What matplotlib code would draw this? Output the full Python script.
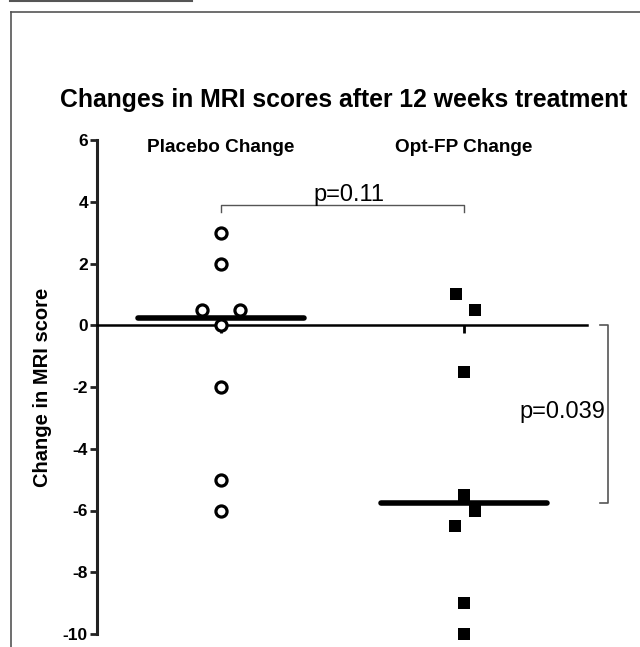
import matplotlib
matplotlib.use("Agg")
import matplotlib.pyplot as plt
from matplotlib.lines import Line2D
import numpy as np

plt.rcParams['font.family'] = ['Liberation Sans', 'DejaVu Sans']

# ---- data ----
categories = ["Placebo Change", "Opt-FP Change"]
placebo_values = [3, 2, 0.5, 0.5, 0, -2, -5, -6]
placebo_jitter = [0, 0, -0.08, 0.08, 0, 0, 0, 0]
optfp_values = [1, 0.5, -1.5, -5.5, -6, -6.5, -9, -10]
optfp_jitter = [-0.033, 0.045, 0, 0, 0.045, -0.037, 0, 0]
yticks = [6, 4, 2, 0, -2, -4, -6, -8, -10]
title = "Changes in MRI scores after 12 weeks treatment"
ylabel = "Change in MRI score"
p_between = "p=0.11"
p_optfp = "p=0.039"

W, H = 640, 647
fig = plt.figure(figsize=(W / 100, H / 100), dpi=100)

# axes placement (pixels)
ax_left, ax_right = 97, 587
ax_top, ax_bottom = 140, 634
ax = fig.add_axes([ax_left / W, 1 - ax_bottom / H,
                   (ax_right - ax_left) / W, (ax_bottom - ax_top) / H])
ax.set_xlim(0.49, 2.506)
ax.set_ylim(-10, 6)

xpos = [1, 2]
med_half = 0.34

# points
ax.plot(np.array(xpos[0]) + np.array(placebo_jitter), placebo_values, 'o',
        ms=8, mfc='white', mec='black', mew=2.3, zorder=4, clip_on=False)
ax.plot(np.array(xpos[1]) + np.array(optfp_jitter), optfp_values, 's',
        ms=9, mfc='black', mec='black', mew=0, zorder=4, clip_on=False)

# medians
for x, vals in zip(xpos, [placebo_values, optfp_values]):
    m = np.median(vals)
    ax.plot([x - med_half, x + med_half], [m, m], color='black', lw=4.0,
            solid_capstyle='round', zorder=3)

# spines / ticks
for s in ['top', 'right']:
    ax.spines[s].set_visible(False)
ax.spines['bottom'].set_position(('data', 0))
ax.spines['bottom'].set_linewidth(1.8)
ax.spines['left'].set_linewidth(2.2)
ax.spines['left'].set_color('#222222')
ax.set_yticks(yticks)
ax.set_yticklabels([str(t) for t in yticks], fontweight='bold', fontsize=12.5)
ax.tick_params(axis='y', direction='out', length=5, width=2, pad=1.5, color='#222222')
ax.set_xticks(xpos)
ax.set_xticklabels([])
ax.tick_params(axis='x', direction='out', length=6, width=2)

# category labels at top
for x, c in zip(xpos, categories):
    ax.text(x, 5.76, c, ha='center', va='center', fontweight='bold', fontsize=13.7)

# p-value bracket between groups
yb = 3.88
ax.plot([xpos[0], xpos[0], xpos[1], xpos[1]], [yb - 0.2, yb, yb, yb - 0.2],
        color='#555555', lw=1.0)
ax.text(1.527, 4.02, p_between, ha='center', va='baseline', fontsize=17)

# bracket for Opt-FP vs zero
m2 = np.median(optfp_values)
ax.plot([2.560, 2.593, 2.593, 2.560], [0, 0, m2, m2], color='#555555', lw=1.2,
        clip_on=False)
ax.text(2.582, -2.82, p_optfp, ha='right', va='center', fontsize=17)

# y label and title
fig.text(43 / W, 1 - 387 / H, ylabel, rotation=90, ha='center', va='center',
         fontweight='bold', fontsize=14.5)
fig.text(344 / W, 1 - 100 / H, title, ha='center', va='center',
         fontweight='bold', fontsize=17.8)

# outer frame lines
fc = '#555555'
fig.add_artist(Line2D([11 / W, 11 / W], [1 - 12 / H, 0], transform=fig.transFigure,
                      color=fc, lw=1.2))
fig.add_artist(Line2D([11 / W, 1], [1 - 12 / H, 1 - 12 / H], transform=fig.transFigure,
                      color=fc, lw=1.2))
fig.add_artist(Line2D([10 / W, 192 / W], [1 - 0.8 / H, 1 - 0.8 / H],
                      transform=fig.transFigure, color=fc, lw=1.5))

fig.savefig("out.png", dpi=100)
